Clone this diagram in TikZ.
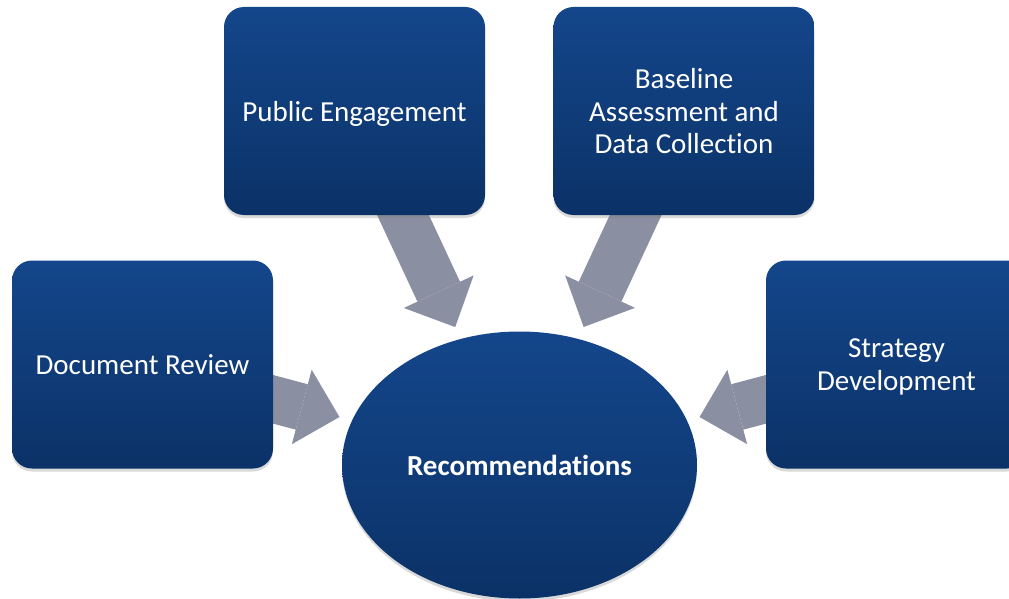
\documentclass[tikz,border=0pt]{standalone}
\usepackage{fontspec}
\setmainfont{Carlito}[RawFeature={-liga;-clig;-calt;-dlig}]
\usepackage{tikz}
\usetikzlibrary{shapes,arrows.meta,shadows,backgrounds,positioning}
\definecolor{bleu_h}{RGB}{20,70,139}
\definecolor{bleu_b}{RGB}{11,50,103}
\definecolor{gris_f}{RGB}{138,143,162}
\tikzset{
  blk/.style = {align=center, inner sep=0pt, text=white, text depth=0pt,
    font=\fontsize{29}{32.5}\selectfont, top color=bleu_h, bottom color=bleu_b,
    drop shadow={shadow xshift=0pt, shadow yshift=-3pt, opacity=0.3}},
  blk_box/.style = {blk, rectangle, rounded corners=20pt,
    minimum width=261pt, minimum height=208pt},% etape
  blk_ell/.style = {blk, ellipse, font=\fontsize{29}{32.5}\selectfont\bfseries,
    minimum width=355pt, minimum height=267pt},% resultat
  blk_arr/.style = {draw=gris_f, line width=47pt, shorten >=13pt,
    -{Triangle[length=39pt, width=77pt, line width=0pt]}}% fleche large
}

\begin{document}
\begin{tikzpicture}[x=1pt, y=-1pt]
        \useasboundingbox (0,0) rectangle (1009,599);
        \node [blk_ell] (rec) at (519.5,465) {Recommendations};
        \node [blk_box] (doc) at (142.5,364.5) {Document Review};
        \node [blk_box] (pub) at (354.5,111) {Public Engagement};
        \node [blk_box] (bas) at (684,111) {Baseline\\Assessment and\\Data Collection};
        \node [blk_box] (str) at (896.5,364.5) {Strategy\\Development};
        % fleches vers le centre, sous les blocs
        \begin{scope}[on background layer]
        \foreach \src in {doc,pub,bas,str}
            \draw [blk_arr] (\src.center) -- (rec);
        \end{scope}
        \end{tikzpicture}
\end{document}
